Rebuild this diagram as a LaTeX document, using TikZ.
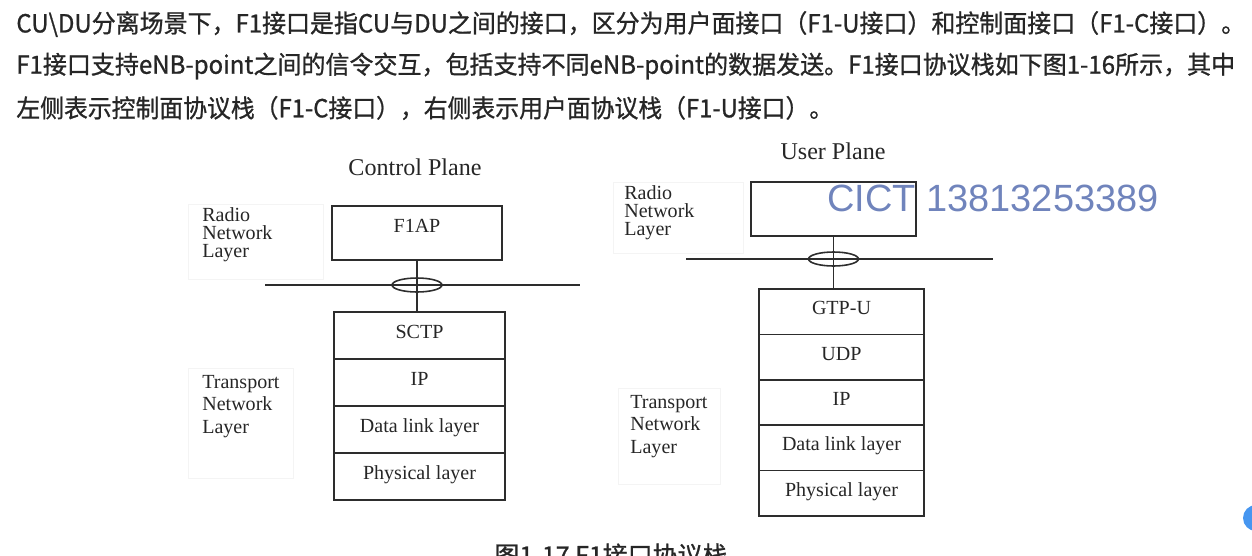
\documentclass[tikz,border=0pt]{standalone}
\usepackage{fontspec}
\usepackage{graphicx}
\setmainfont{Liberation Serif}
\newfontfamily\cjkfont[FakeBold=0.9]{Noto Sans CJK SC}
\newfontfamily\markfont{Liberation Sans}
\usetikzlibrary{positioning,shapes.geometric}

\definecolor{inkgray}{RGB}{45,45,45}
\definecolor{textgray}{RGB}{38,38,38}
\definecolor{framegray}{RGB}{244,244,244}
\definecolor{markblue}{RGB}{112,132,188}
\definecolor{dotblue}{RGB}{70,150,240}

\tikzset{
  busline/.style={draw=inkgray, line width=0.9pt},
  stackrow/.style={draw=inkgray, line width=0.9pt, inner sep=0pt, outer sep=0pt,
    text=textgray, font=\fontsize{11.4}{13}\selectfont, text height=0.27cm, text depth=0.15cm},
  cprow/.style={stackrow, minimum width=3.42cm, minimum height=0.94cm},
  uprow/.style={stackrow, minimum width=3.3cm, minimum height=0.908cm},
  radiobox/.style={stackrow, minimum width=3.3cm, minimum height=1.08cm, text depth=0.28cm},
  sapring/.style={ellipse, draw=inkgray, line width=0.9pt, minimum width=1cm, minimum height=0.28cm, inner sep=0pt},
  faintframe/.style={draw=framegray, line width=0.6pt, anchor=north west, inner sep=0pt},
  layerlabel/.style={anchor=north west, inner sep=0pt, align=left, text=textgray},
  planetitle/.style={text=textgray, inner sep=0pt, font=\fontsize{13.7}{16}\selectfont},
  introline/.style={anchor=west, inner sep=0pt, text=textgray, font=\cjkfont\fontsize{14.2}{17}\selectfont}
}

\begin{document}
\begin{tikzpicture}[x=0.02cm, y=-0.02cm]
\useasboundingbox (0,0) rectangle (1252,555);
\clip (0,0) rectangle (1252,555);

% intro text
\node[introline] (intro1) at (16,24) {\resizebox{24.58cm}{\height}{CU\textbackslash DU分离场景下，F1接口是指CU与DU之间的接口，区分为用户面接口（F1-U接口）和控制面接口（F1-C接口）。}};
\node[introline] (intro2) at (16,66) {\resizebox{24.38cm}{\height}{F1接口支持eNB-point之间的信令交互，包括支持不同eNB-point的数据发送。F1接口协议栈如下图1-16所示，其中}};
\node[introline] (intro3) at (16,108) {\resizebox{16.34cm}{\height}{左侧表示控制面协议栈（F1-C接口），右侧表示用户面协议栈（F1-U接口）。}};

% control plane
\node[planetitle] (cptitle) at (415,167) {Control Plane};
\node[faintframe, minimum width=2.7cm, minimum height=1.5cm] (cpradioframe) at (188,204) {};
\node[layerlabel, font=\fontsize{11.4}{10.2}\selectfont] (cpradio) at (202,207) {Radio\\Network\\Layer};
\node[faintframe, minimum width=2.1cm, minimum height=2.2cm] (cptransframe) at (188,368) {};
\node[layerlabel, font=\fontsize{11.4}{12.8}\selectfont] (cptrans) at (202,375) {Transport\\Network\\Layer};

\node[radiobox, minimum width=3.4cm] (f1ap) at (417,233) {F1AP};
\node[cprow] (sctp) at (419.5,335.5) {SCTP};
\node[cprow, below=0pt of sctp] (cpip) {IP};
\node[cprow, below=0pt of cpip] (cplink) {Data link layer};
\node[cprow, below=0pt of cplink] (cpphy) {Physical layer};

\coordinate (cpwest) at (265,285);
\coordinate (cpeast) at (580,285);
\draw[busline] (cpwest) -- (cpeast);
\draw[busline] (f1ap.south) -- (f1ap.south |- sctp.north);
\node[sapring] (cpsap) at (f1ap.south |- cpwest) {};

% user plane
\node[planetitle] (uptitle) at (833,151) {User Plane};
\node[faintframe, minimum width=2.6cm, minimum height=1.42cm] (upradioframe) at (613,182) {};
\node[layerlabel, font=\fontsize{11.4}{10.2}\selectfont] (upradio) at (624,185) {Radio\\Network\\Layer};
\node[faintframe, minimum width=2.04cm, minimum height=1.92cm] (uptransframe) at (618,388) {};
\node[layerlabel, font=\fontsize{11.4}{12.8}\selectfont] (uptrans) at (630,395) {Transport\\Network\\Layer};

\node[radiobox] (upapp) at (833.5,209) {};
\node[uprow] (gtpu) at (841.5,311.7) {GTP-U};
\node[uprow, below=0pt of gtpu] (udp) {UDP};
\node[uprow, below=0pt of udp] (upip) {IP};
\node[uprow, below=0pt of upip] (uplink) {Data link layer};
\node[uprow, below=0pt of uplink] (upphy) {Physical layer};

\coordinate (upwest) at (686,259);
\coordinate (upeast) at (993,259);
\draw[busline] (upwest) -- (upeast);
\draw[busline] (upapp.south) -- (upapp.south |- gtpu.north);
\node[sapring] (upsap) at (upapp.south |- upwest) {};

% caption, watermark
\node[text=textgray, inner sep=0pt, font=\cjkfont\fontsize{14.2}{17}\selectfont] (caption) at (611,555) {图1-17 F1接口协议栈};
\node[anchor=west, inner sep=0pt, text=markblue, font=\markfont\fontsize{21.6}{26}\selectfont] (watermark) at (827,198) {CICT 13813253389};
\node[circle, fill=dotblue, minimum size=0.52cm, inner sep=0pt] (helpdot) at (1256,518) {};
\end{tikzpicture}
\end{document}
